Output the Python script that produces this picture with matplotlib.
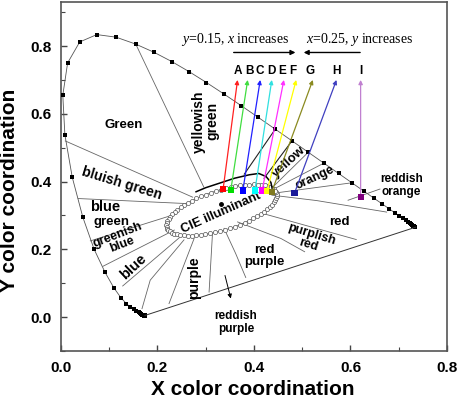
import numpy as np
import matplotlib
matplotlib.use('Agg')
import matplotlib.pyplot as plt
from matplotlib.patches import Ellipse

plt.rcParams['font.family'] = ['Liberation Sans', 'DejaVu Sans']
plt.rcParams['mathtext.fontset'] = 'custom'
plt.rcParams['mathtext.it'] = 'Liberation Serif:italic'
plt.rcParams['mathtext.rm'] = 'Liberation Serif'

# ── spectral locus (CIE 1931), 380-700 nm every 5 nm ──
locus_x = [0.1741, 0.1740, 0.1738, 0.1736, 0.1733, 0.1730, 0.1726, 0.1721,
           0.1714, 0.1703, 0.1689, 0.1669, 0.1644, 0.1611, 0.1566, 0.1510,
           0.1440, 0.1355, 0.1241, 0.1096, 0.0913, 0.0687, 0.0454, 0.0235,
           0.0082, 0.0039, 0.0139, 0.0389, 0.0743, 0.1142, 0.1547, 0.1929,
           0.2296, 0.2658, 0.3016, 0.3373, 0.3731, 0.4087, 0.4441, 0.4788,
           0.5125, 0.5448, 0.5752, 0.6029, 0.6270, 0.6482, 0.6658, 0.6801,
           0.6915, 0.7006, 0.7079, 0.7140, 0.7190, 0.7230, 0.7260, 0.7283,
           0.7300, 0.7311, 0.7320, 0.7327, 0.7334, 0.7340, 0.7344, 0.7346,
           0.7347]
locus_y = [0.0050, 0.0050, 0.0049, 0.0049, 0.0048, 0.0048, 0.0048, 0.0048,
           0.0051, 0.0058, 0.0069, 0.0086, 0.0109, 0.0138, 0.0177, 0.0227,
           0.0297, 0.0399, 0.0578, 0.0868, 0.1327, 0.2007, 0.2950, 0.4127,
           0.5384, 0.6548, 0.7502, 0.8120, 0.8338, 0.8262, 0.8059, 0.7816,
           0.7543, 0.7243, 0.6923, 0.6589, 0.6245, 0.5896, 0.5547, 0.5202,
           0.4866, 0.4544, 0.4242, 0.3965, 0.3725, 0.3514, 0.3340, 0.3197,
           0.3083, 0.2993, 0.2920, 0.2859, 0.2809, 0.2770, 0.2740, 0.2717,
           0.2700, 0.2689, 0.2680, 0.2673, 0.2666, 0.2660, 0.2656, 0.2654,
           0.2653]

# ── colour region boundaries ──
boundaries = [
    ([0.155, 0.296], [0.806, 0.384]),                 # Green | yellowish green
    ([0.009, 0.273], [0.520, 0.354]),                 # Green | bluish green
    ([0.036, 0.262], [0.350, 0.335]),                 # bluish green | blue green
    ([0.061, 0.240], [0.225, 0.305]),                 # blue green | greenish blue
    ([0.087, 0.235], [0.150, 0.257]),                 # greenish blue | blue
    ([0.128, 0.245], [0.092, 0.234]),
    ([0.168, 0.185, 0.255], [0.025, 0.109, 0.228]),
    ([0.224, 0.276], [0.040, 0.232]),
    ([0.307, 0.314], [0.074, 0.245]),
    ([0.383, 0.362, 0.338], [0.117, 0.188, 0.262]),
    ([0.366, 0.456, 0.505], [0.281, 0.232, 0.193]),
    ([0.418, 0.456, 0.612], [0.306, 0.291, 0.229]),
    ([0.437, 0.530, 0.675], [0.360, 0.344, 0.310]),   # red | reddish orange
    ([0.595, 0.661], [0.345, 0.378]),
    ([0.603, 0.437], [0.3965, 0.365]),
    ([0.5448, 0.437], [0.4544, 0.375]),
    ([0.5125, 0.437], [0.4866, 0.381]),
]
dark_boundaries = [
    ([0.4441, 0.380], [0.5547, 0.422]),
    ([0.4788, 0.421], [0.5202, 0.410]),
]

# black arc on top of the illuminant region
arc_x = [0.280, 0.300, 0.330, 0.360, 0.390, 0.410, 0.425, 0.435, 0.438]
arc_y = [0.370, 0.382, 0.396, 0.410, 0.420, 0.424, 0.415, 0.398, 0.378]

# ── samples A..I ──
sample_names = ['A', 'B', 'C', 'D', 'E', 'F', 'G', 'H', 'I']
sample_x = [0.336, 0.352, 0.377, 0.402, 0.417, 0.427, 0.437, 0.484, 0.621]
sample_y = [0.377, 0.375, 0.374, 0.374, 0.374, 0.372, 0.370, 0.366, 0.354]
tip_x = [0.366, 0.387, 0.413, 0.437, 0.462, 0.4875, 0.522, 0.571, 0.621]
label_x = [0.366, 0.390, 0.413, 0.436, 0.459, 0.481, 0.517, 0.571, 0.621]
square_colors = ['#ff0000', '#00dd00', '#0000ff', '#00ffff', '#ff00ff',
                 '#ffff00', '#807a20', '#1a1a99', '#800080']
arrow_colors = ['#ff2020', '#40dd40', '#2020ff', '#30e0e0', '#ff30ff',
                '#ffff00', '#8a8a20', '#4040c0', '#c080d0']

fig = plt.figure(figsize=(4.58, 3.98), dpi=100)
ax = fig.add_axes([0.133, 0.118, 0.843, 0.877])

# locus + purple line
ax.plot(locus_x, locus_y, color='#555555', lw=0.6, marker='s', ms=2.3,
        mfc='black', mec='black', mew=0, zorder=3)
ax.plot([locus_x[0], locus_x[-1]], [locus_y[0], locus_y[-1]],
        color='#333333', lw=0.7, zorder=3)

for bx, by in boundaries:
    ax.plot(bx, by, color='#666666', lw=0.6, zorder=2)
for bx, by in dark_boundaries:
    ax.plot(bx, by, color='#222222', lw=0.8, zorder=2)

# illuminant region (hollow circles along its outline)
ell = Ellipse((0.333, 0.316), 0.25, 0.112, angle=27)
t = np.linspace(0, 2 * np.pi, 70)
ev = ell.get_patch_transform().transform(np.c_[np.cos(t), np.sin(t)])
ax.plot(ev[:, 0], ev[:, 1], color='#666666', lw=0.5, marker='o', ms=3.0,
        mfc='white', mec='#555555', mew=0.5, zorder=4)
ax.plot(arc_x, arc_y, color='black', lw=1.1, zorder=4)
ax.plot([0.331], [0.334], 'o', color='black', ms=2.5, zorder=5)

# arrows A..I
for i in range(len(sample_names)):
    ax.annotate('', xy=(tip_x[i], 0.700), xytext=(sample_x[i], sample_y[i]),
                arrowprops=dict(arrowstyle='-|>', color=arrow_colors[i],
                                lw=0.9, mutation_scale=6,
                                shrinkA=0, shrinkB=0), zorder=6)
    ax.text(label_x[i], 0.727, sample_names[i], ha='center', va='center',
            fontsize=8.5, fontweight='bold')
ax.scatter(sample_x, sample_y, marker='s', s=20, c=square_colors,
           edgecolors='none', zorder=7)

# header
ax.text(0.362, 0.820, '$y$=0.15, $x$ increases', ha='center', va='center',
        fontsize=10, family='Liberation Serif')
ax.text(0.620, 0.820, '$x$=0.25, $y$ increases', ha='center', va='center',
        fontsize=10, family='Liberation Serif')
ax.annotate('', xy=(0.486, 0.781), xytext=(0.358, 0.781),
            arrowprops=dict(arrowstyle='-|>', color='black', lw=1.0,
                            mutation_scale=7, shrinkA=0, shrinkB=0))
ax.annotate('', xy=(0.503, 0.781), xytext=(0.620, 0.781),
            arrowprops=dict(arrowstyle='-|>', color='black', lw=1.0,
                            mutation_scale=7, shrinkA=0, shrinkB=0))

# region labels
lab = dict(ha='center', va='center', fontweight='bold', rotation_mode='anchor')
ax.text(0.130, 0.568, 'Green', fontsize=9.5, **lab)
ax.text(0.300, 0.578, 'yellowish\ngreen', fontsize=10, rotation=90,
        linespacing=1.0, **lab)
ax.text(0.126, 0.395, 'bluish green', fontsize=10, rotation=-17, **lab)
ax.text(0.092, 0.326, 'blue', fontsize=10.5, **lab)
ax.text(0.105, 0.281, 'green', fontsize=9.5, **lab)
ax.text(0.122, 0.228, 'greenish\nblue', fontsize=9, rotation=21,
        linespacing=0.9, **lab)
ax.text(0.151, 0.148, 'blue', fontsize=10.5, rotation=43, **lab)
ax.text(0.275, 0.117, 'purple', fontsize=10, rotation=90, **lab)
ax.text(0.421, 0.180, 'red\npurple', fontsize=9.5, linespacing=1.0, **lab)
ax.text(0.515, 0.228, 'purplish\nred', fontsize=9, rotation=-17,
        linespacing=0.9, **lab)
ax.text(0.578, 0.280, 'red', fontsize=9.5, **lab)
ax.text(0.706, 0.389, 'reddish\norange', fontsize=8.5, linespacing=1.15, **lab)
ax.text(0.526, 0.410, 'orange', fontsize=9, rotation=25, **lab)
ax.text(0.473, 0.459, 'yellow', fontsize=9.5, rotation=42, **lab)
ax.text(0.331, 0.307, 'CIE illuminant', fontsize=9.4, rotation=24, **lab)
ax.text(0.420, 0.375, 'C', fontsize=10.5, **lab)
ax.text(0.363, -0.017, 'reddish\npurple', fontsize=8.5, linespacing=1.1, **lab)
ax.annotate('', xy=(0.352, 0.055), xytext=(0.340, 0.123),
            arrowprops=dict(arrowstyle='-|>', color='black', lw=0.7,
                            mutation_scale=6, shrinkA=0, shrinkB=0))

# axes
ax.set_xlim(0, 0.8)
ax.set_ylim(-0.1, 0.93)
ax.set_xticks([0.0, 0.2, 0.4, 0.6, 0.8])
ax.set_yticks([0.0, 0.2, 0.4, 0.6, 0.8])
ax.set_xticks([0.1, 0.3, 0.5, 0.7], minor=True)
ax.set_yticks([-0.1, 0.1, 0.3, 0.5, 0.7, 0.9], minor=True)
ax.tick_params(which='both', direction='in', color='#444444')
ax.tick_params(which='major', length=4, width=1.0, pad=7, labelsize=11)
ax.tick_params(which='minor', length=3, width=0.8)
for lbl in ax.get_xticklabels() + ax.get_yticklabels():
    lbl.set_fontweight('bold')
for sp in ax.spines.values():
    sp.set_color('#555555')
    sp.set_linewidth(1.2)

ax.set_xlabel('X color coordination', fontsize=15, fontweight='bold')
ax.set_ylabel('Y color coordination', fontsize=15, fontweight='bold')
ax.xaxis.set_label_coords(0.497, -0.082)
ax.yaxis.set_label_coords(-0.108, 0.46)

fig.savefig('out.png', dpi=100)
